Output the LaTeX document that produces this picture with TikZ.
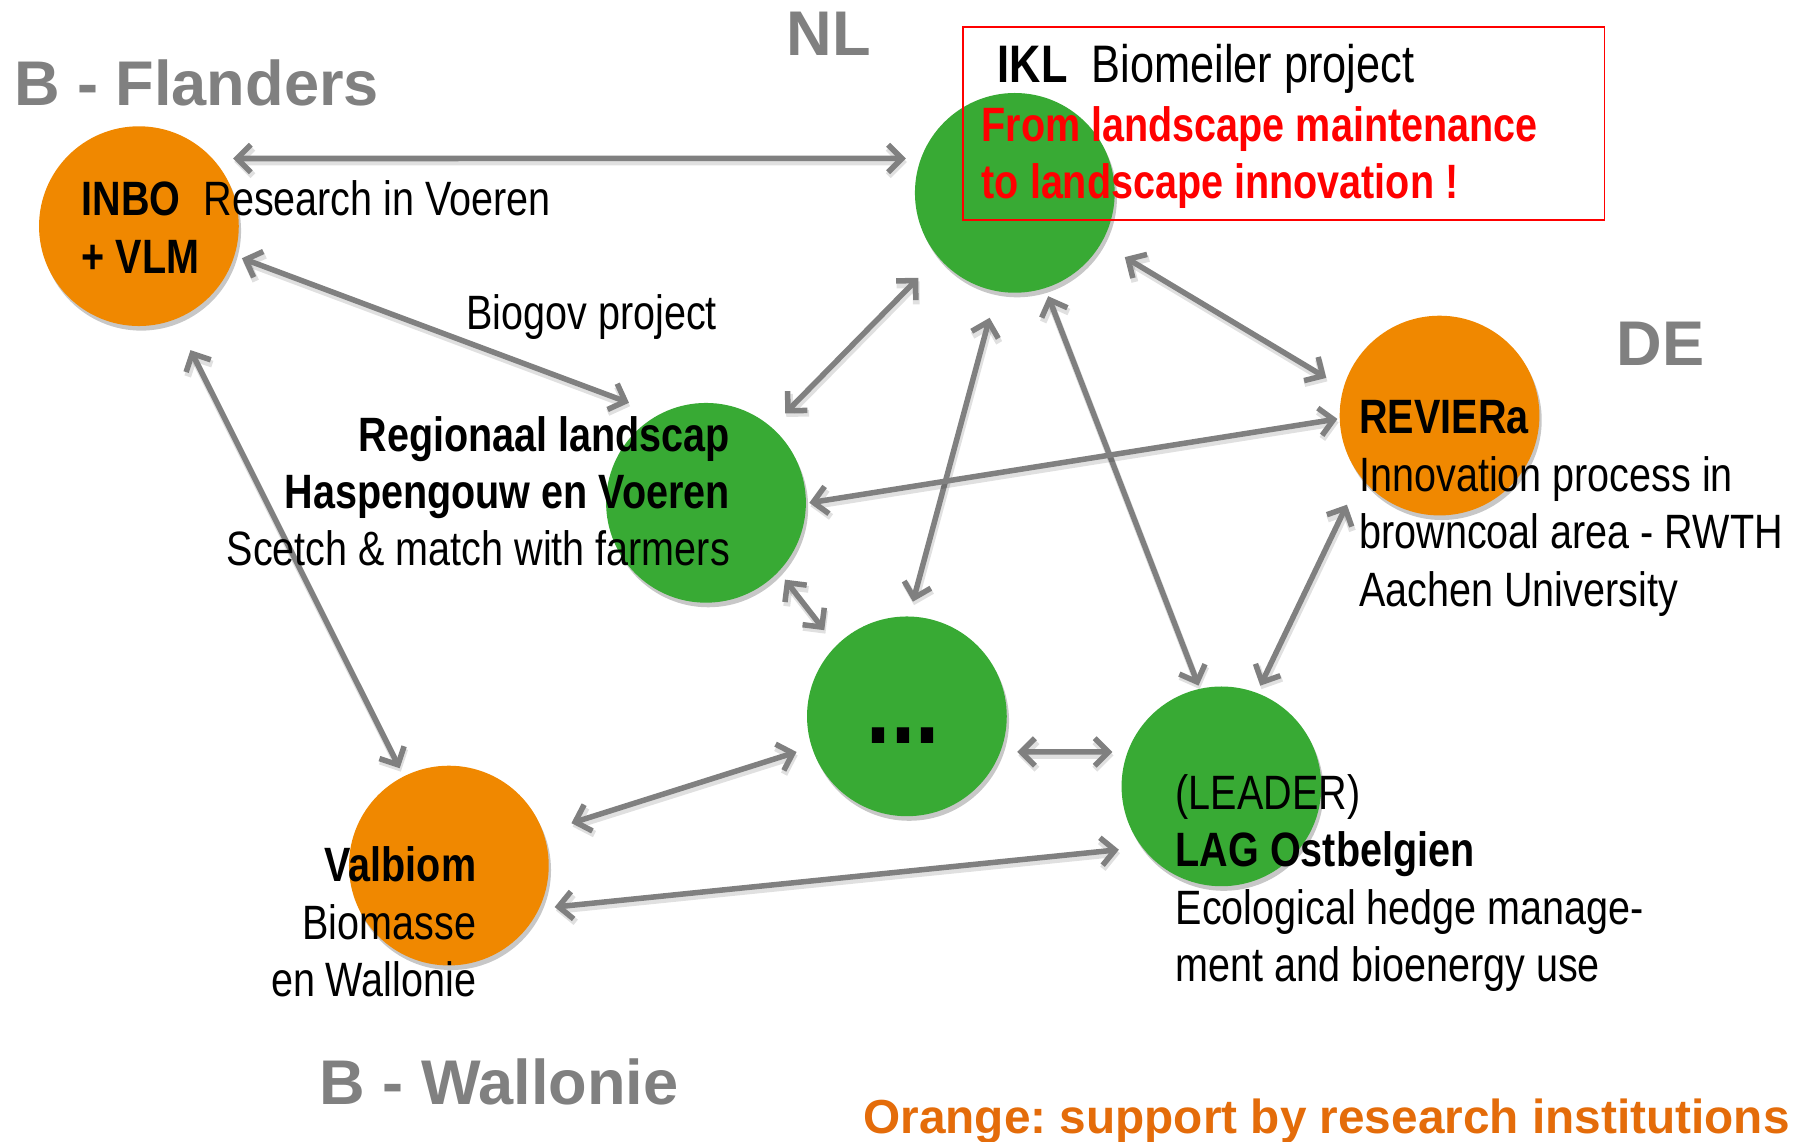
\documentclass[tikz,border=0pt]{standalone}
\usepackage{fontspec}
\setmainfont{Liberation Sans}
\newfontfamily\narrowfont[FakeStretch=0.82]{Liberation Sans}
\usetikzlibrary{arrows.meta,shadows,calc}
\definecolor{orng}{RGB}{240,136,0}
\definecolor{grn}{RGB}{56,170,52}
\definecolor{arrgray}{RGB}{128,128,128}
\definecolor{lblgray}{RGB}{128,128,128}
\definecolor{orngtxt}{RGB}{228,108,10}
\definecolor{pured}{RGB}{255,0,0}
\frenchspacing
\begin{document}
\begin{tikzpicture}[x=1pt,y=-1pt,
  blob/.style={circle, minimum size=174pt, inner sep=0pt, draw=none,
    drop shadow={shadow xshift=2pt, shadow yshift=-4pt, opacity=0.22, fill=black}},
  orangeblob/.style={blob, fill=orng},
  greenblob/.style={blob, fill=grn},
  link/.style={draw=arrgray, line width=4.8pt, line cap=round, line join=round,
    {Straight Barb[length=12pt,width=24pt]}-{Straight Barb[length=12pt,width=24pt]},
    preaction={draw=black, opacity=0.12, line width=6pt, transform canvas={shift={(1pt,-3pt)}}}},
  body/.style={font=\narrowfont\fontsize{42}{50}\selectfont, inner sep=0pt},
  bodyb/.style={font=\narrowfont\bfseries\fontsize{42}{50}\selectfont, inner sep=0pt},
  redtxt/.style={font=\narrowfont\bfseries\fontsize{42}{50}\selectfont, inner sep=0pt, text=pured},
  region/.style={font=\bfseries\fontsize{55}{60}\selectfont, text=lblgray, inner sep=0pt, anchor=base west},
]
\useasboundingbox (0,0) rectangle (1568,994);
\fill[white] (0,0) rectangle (1568,994);

% circles
\node[orangeblob] (inbo) at (121,197) {};
\node[greenblob]  (ikl)  at (884,168) {};
\node[greenblob]  (reg)  at (615,438) {};
\node[greenblob]  (dots) at (790,624) {};
\node[greenblob]  (lag)  at (1064,685) {};
\node[orangeblob] (rev)  at (1254,362) {};
\node[orangeblob] (val)  at (391,754) {};

% connectors
\draw[link] ($(inbo)+(35.7:101pt)$) -- ($(ikl)+(162.5:99.6pt)$);
\draw[link] ($(inbo)+(-17.3:94pt)$) -- ($(reg)+(127.6:110pt)$);
\draw[link] ($(inbo)+(-67.4:117pt)$) -- ($(val)+(116.8:95pt)$);
\draw[link] ($(ikl)+(-138.6:112pt)$) -- ($(reg)+(48.5:104pt)$);
\draw[link] ($(ikl)+(-101.4:111pt)$) -- ($(dots)+(87:100pt)$);
\draw[link] ($(ikl)+(-72.1:94.6pt)$) -- ($(lag)+(102.8:90pt)$);
\draw[link] ($(ikl)+(-30.3:111pt)$) -- ($(rev)+(161.6:104pt)$);
\draw[link] ($(rev)+(181.9:89pt)$) -- ($(reg)+(0:90pt)$);
\draw[link] ($(rev)+(223.9:112pt)$) -- ($(lag)+(68.9:94pt)$);
\draw[link] ($(reg)+(-44.2:96pt)$) -- ($(dots)+(133.8:104pt)$);
\draw[link] ($(dots)+(-17.9:101pt)$) -- ($(lag)+(162.5:99.6pt)$);
\draw[link] ($(dots)+(197.9:101pt)$) -- ($(val)+(19.1:113pt)$);
\draw[link] ($(lag)+(211.7:105pt)$) -- ($(val)+(-21.4:99pt)$);

% red box
\node[draw=pured, line width=1.5pt, minimum width=559pt, minimum height=168pt,
  inner sep=0pt, anchor=north west] (iklbox) at (838,23) {};

% region labels
\node[region] (flanders) at (12,92) {B - Flanders};
\node[region] (nl) at (685,48) {NL};
\node[region] (de) at (1408,318) {DE};
\node[region] (wallonie) at (278,962) {B - Wallonie};
\node[font=\bfseries\fontsize{41.6}{48}\selectfont, text=orngtxt, inner sep=0pt, anchor=base west]
  (legend) at (752,987) {Orange: support by research institutions};

% texts
\node[body, anchor=base west] (inbo1) at (71,188) {\textbf{INBO}\hspace{20pt}Research in Voeren};
\node[bodyb, anchor=base west] (inbo2) at (71,238) {+ VLM};
\node[body, anchor=base west] (biogov) at (406,287) {Biogov project};

\node[bodyb, anchor=base east] (reg1) at (636,393) {Regionaal landscap};
\node[bodyb, anchor=base east] (reg2) at (636,443) {Haspengouw en Voeren};
\node[body, anchor=base east] (reg3) at (636,493) {Scetch \& match with farmers};

\node[body, font=\narrowfont\fontsize{46}{52}\selectfont, anchor=base west] (ikl1) at (869,72)
  {\textbf{IKL}\hspace{21pt}Biomeiler project};
\node[redtxt, anchor=base west] (red1) at (855,123) {From landscape maintenance};
\node[redtxt, anchor=base west] (red2) at (855,173) {to landscape innovation !};

\node[bodyb, anchor=base west] (rev1) at (1184,378) {REVIERa};
\node[body, anchor=base west] (rev2) at (1184,428) {Innovation process in};
\node[body, anchor=base west] (rev3) at (1184,478) {browncoal area - RWTH};
\node[body, anchor=base west] (rev4) at (1184,528) {Aachen University};

\node[body, anchor=base west] (lag1) at (1024,705) {(LEADER)};
\node[bodyb, anchor=base west] (lag2) at (1024,755) {LAG Ostbelgien};
\node[body, anchor=base west] (lag3) at (1024,805) {Ecological hedge manage-};
\node[body, anchor=base west] (lag4) at (1024,855) {ment and bioenergy use};

\node[bodyb, anchor=base east] (val1) at (415,768) {Valbiom};
\node[body, anchor=base east] (val2) at (415,818) {Biomasse};
\node[body, anchor=base east] (val3) at (415,868) {en Wallonie};

\node[font=\narrowfont\bfseries\fontsize{92}{100}\selectfont, inner sep=0pt, anchor=base west]
  (dotstxt) at (755,648) {...};
\end{tikzpicture}
\end{document}
